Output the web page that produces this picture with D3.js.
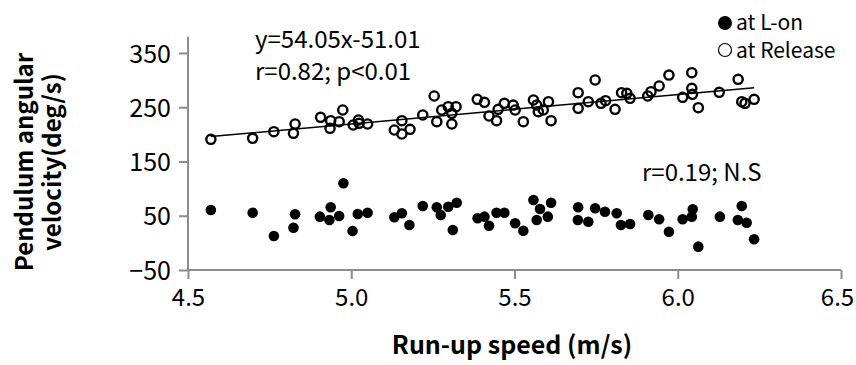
<!DOCTYPE html>
<html>
<head>
<meta charset="utf-8">
<script src="https://cdn.jsdelivr.net/npm/d3@7"></script>
<style>
  body { margin: 0; background: #fff; }
  text { font-family: "Noto Sans CJK TC", "Noto Sans", sans-serif; fill: #000; }
</style>
</head>
<body>
<div id="chart"></div>
<script>
// run-up speed (m/s) and pendulum angular velocity (deg/s) at L-on
const lonSpeed = [4.570, 4.698, 4.763, 4.828, 4.823, 4.904, 4.937, 4.933, 4.963, 4.976,
  5.020, 5.050, 5.004, 5.132, 5.155, 5.178, 5.219, 5.262, 5.274, 5.297,
  5.323, 5.311, 5.387, 5.408, 5.422, 5.445, 5.469, 5.502, 5.527, 5.558,
  5.612, 5.568, 5.602, 5.578, 5.695, 5.694, 5.726, 5.747, 5.777, 5.813,
  5.826, 5.854, 5.910, 5.943, 5.973, 6.015, 6.046, 6.043, 6.063, 6.129,
  6.196, 6.184, 6.211, 6.234];
const lonVel = [60.6, 55.6, 12.7, 52.7, 28, 48.3, 65.6, 42.2, 49.5, 109.8,
  53.2, 55.6, 21.9, 47.1, 54.5, 33, 68, 65.6, 51.4, 66.7,
  74.1, 23.7, 45.3, 48.3, 31.7, 55.6, 55.6, 36.1, 22.4, 79,
  74.1, 42.2, 48.3, 62.4, 65.6, 42.2, 39, 63.7, 57.5, 54.5,
  33, 34.8, 51.4, 43.5, 20.6, 43.5, 61.9, 48.3, -7, 48.3,
  68, 42.2, 37.2, 6.6];

// at Release
const relSpeed = [4.570, 4.698, 4.763, 4.828, 4.823, 4.906, 4.937, 4.935, 4.974, 4.963,
  5.006, 5.022, 5.024, 5.050, 5.132, 5.155, 5.155, 5.180, 5.219, 5.254,
  5.262, 5.277, 5.297, 5.321, 5.308, 5.308, 5.386, 5.408, 5.422, 5.445,
  5.450, 5.469, 5.496, 5.502, 5.527, 5.558, 5.568, 5.573, 5.588, 5.604,
  5.612, 5.695, 5.747, 5.695, 5.726, 5.765, 5.779, 5.808, 5.828, 5.844,
  5.854, 5.908, 5.918, 5.943, 5.973, 6.015, 6.043, 6.043, 6.045, 6.063,
  6.127, 6.185, 6.196, 6.206, 6.234];
const relVel = [190.9, 192.8, 204.9, 219.1, 202, 231.5, 225.2, 211.2, 244.9, 223.4,
  217.3, 226.5, 220.4, 219.1, 208.1, 225.2, 200.7, 209.4, 235.7, 270.7,
  223.4, 244.9, 251, 251, 219.1, 238.8, 264.7, 259.1, 233.9, 225.2,
  246.2, 257.3, 254.1, 244.9, 223.4, 263.4, 254.1, 241.8, 244.9, 260.2,
  225.2, 276.8, 300.2, 248.1, 260.2, 257.3, 262.1, 246.2, 276.8, 275.7,
  266.5, 270.7, 278.7, 289.2, 309.4, 268.3, 313.7, 284.9, 273.9, 249.2,
  277.6, 301.5, 260.2, 257.3, 264.7];

const xTicks = [4.5, 5.0, 5.5, 6.0, 6.5];
const yTicks = [-50, 50, 150, 250, 350];
const fitSlope = 54.05, fitIntercept = -51.01;
const fitLabel = "y=54.05x-51.01";
const relStats = "r=0.82; p<0.01";
const lonStats = "r=0.19; N.S";
const legendNames = ["at L-on", "at Release"];

const W = 856, H = 365;
const svg = d3.select('#chart').append('svg').attr('width', W).attr('height', H);

const x = d3.scaleLinear().domain([4.5, 6.5]).range([188, 841]);
const y = d3.scaleLinear().domain([-50, 350]).range([270, 53]);
const axisColor = '#8c8c8c';

// y axis
const gy = svg.append('g').attr('transform', 'translate(188,0)')
  .call(d3.axisLeft(y).tickValues(yTicks).tickSize(9).tickPadding(8).tickFormat(d3.format('d')));
gy.select('.domain').attr('d', 'M0,' + y(380) + 'V' + y(-50));
// x axis
const gx = svg.append('g').attr('transform', 'translate(0,270)')
  .call(d3.axisBottom(x).tickValues(xTicks).tickSize(9).tickPadding(10).tickFormat(d3.format('.1f')));
gx.select('.domain').attr('d', 'M' + x(4.5) + ',0H' + x(6.5));

svg.selectAll('.domain').attr('stroke', axisColor).attr('stroke-width', 2);
svg.selectAll('.tick line').attr('stroke', axisColor).attr('stroke-width', 2);
gy.selectAll('.tick text').style('font-size', '25px').attr('fill', '#000').attr('dy', '0.36em');
gx.selectAll('.tick text').style('font-size', '24px').attr('fill', '#000');
gx.selectAll('.tick:last-of-type text').attr('dx', -4);

// trend line for release data
const xs = d3.extent(relSpeed);
svg.append('line')
  .attr('x1', x(xs[0])).attr('y1', y(fitSlope * xs[0] + fitIntercept))
  .attr('x2', x(xs[1])).attr('y2', y(fitSlope * xs[1] + fitIntercept))
  .attr('stroke', '#000').attr('stroke-width', 1.5);

svg.append('g').selectAll('circle')
  .data(relSpeed.map((s, i) => [s, relVel[i]]))
  .enter().append('circle')
  .attr('cx', d => x(d[0])).attr('cy', d => y(d[1]))
  .attr('r', 4.6).attr('fill', 'none').attr('stroke', '#000').attr('stroke-width', 2.4);

svg.append('g').selectAll('circle')
  .data(lonSpeed.map((s, i) => [s, lonVel[i]]))
  .enter().append('circle')
  .attr('cx', d => x(d[0])).attr('cy', d => y(d[1]))
  .attr('r', 5.3).attr('fill', '#000');

// annotations
svg.append('text').attr('x', 255).attr('y', 48).style('font-size', '24px').text(fitLabel);
svg.append('text').attr('x', 255).attr('y', 80).style('font-size', '24px').text(relStats);
svg.append('text').attr('x', 642).attr('y', 181).style('font-size', '24px').text(lonStats);

// legend
const lg = svg.append('g');
lg.append('circle').attr('cx', 725).attr('cy', 23).attr('r', 7).attr('fill', '#000');
lg.append('circle').attr('cx', 725).attr('cy', 50).attr('r', 6.5).attr('fill', 'none')
  .attr('stroke', '#000').attr('stroke-width', 1.2);
lg.append('text').attr('x', 736).attr('y', 30).style('font-size', '21px').text(legendNames[0]);
lg.append('text').attr('x', 736).attr('y', 58).style('font-size', '21px').text(legendNames[1]);

// axis titles
svg.append('text').attr('x', 512).attr('y', 354).attr('text-anchor', 'middle')
  .style('font-size', '25px').style('font-weight', '700').text('Run-up speed (m/s)');
const yt = svg.append('text').attr('transform', 'translate(0,162) rotate(-90)')
  .attr('text-anchor', 'middle').style('font-size', '24px').style('font-weight', '700');
yt.append('tspan').attr('x', 0).attr('y', 33).text('Pendulum angular');
yt.append('tspan').attr('x', 0).attr('y', 61).text('velocity(deg/s)');
</script>
</body>
</html>
